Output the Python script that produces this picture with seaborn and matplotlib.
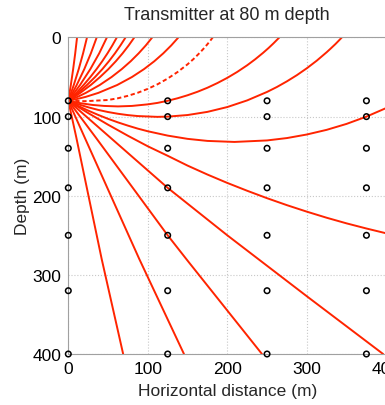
import matplotlib
matplotlib.use('Agg')
import matplotlib.pyplot as plt
import numpy as np
import pandas as pd
import seaborn as sns


# ---------------------------
# ray paths from a transmitter at 80 m depth
# ---------------------------

# upward fan, each ray goes from the source to the surface
up_rays_x = [
    [0, 3.2, 6.1, 8.7, 11],
    [0, 6.9, 13.1, 18.6, 23.5],
    [0, 10.6, 20.1, 28.4, 35.7],
    [0, 14.8, 27.7, 38.9, 48.5],
    [0, 5.1, 10.1, 19.3, 27.7, 35.5, 42.7, 49.3, 55.4, 61],
    [0, 6.4, 12.4, 23.5, 33.6, 42.8, 51.1, 58.7, 65.6, 72],
    [0, 7.8, 15.1, 28.3, 39.9, 50.4, 59.8, 68.3, 76.0, 83],
    [0, 11.7, 22.0, 39.6, 54.4, 67.2, 78.5, 88.5, 97.5, 105.5],
    [0, 10.0, 22.0, 37.8, 61.6, 80.0, 95.2, 108.2, 119.5, 129.5, 138.4],
]
up_rays_z = [
    [80, 60, 40, 20, 0],
    [80, 60, 40, 20, 0],
    [80, 60, 40, 20, 0],
    [80, 60, 40, 20, 0],
    [80, 75, 70, 60, 50, 40, 30, 20, 10, 0],
    [80, 75, 70, 60, 50, 40, 30, 20, 10, 0],
    [80, 75, 70, 60, 50, 40, 30, 20, 10, 0],
    [80, 75, 70, 60, 50, 40, 30, 20, 10, 0],
    [80, 78, 75, 70, 60, 50, 40, 30, 20, 10, 0],
]

# the dashed ray
dash_x = [0, 21, 50, 62.5, 75, 87.5, 100, 112.5, 125, 137.5, 150, 157.5, 165, 170, 175, 179, 181.6]
dash_z = [80, 80.5, 79.0, 76.8, 73.7, 69.8, 64.9, 59.0, 51.9, 43.6, 33.9, 27.2, 19.7, 14.3, 8.5, 3.5, 0]

# rays that dip first, then the downward fan
down_rays_x = [
    [0, 15, 30, 45, 62.5, 80, 100, 112, 125, 137.5, 150, 162.5, 175, 187.5, 200, 212.5,
     225, 235, 245, 252, 258, 265.4],
    [0, 12.5, 25, 37.5, 50, 62.5, 75, 87.5, 112, 125, 150, 175, 200, 225, 250, 262.5,
     275, 287.5, 300, 312.5, 325, 330, 336, 340, 344],
    [0, 12.5, 25, 37.5, 50, 62.5, 75, 87.5, 100, 125, 150, 175, 209, 250, 275, 300,
     325, 350, 375, 400],
    [0, 25, 50, 75, 100, 125, 150, 175, 200, 225, 250, 275, 300, 325, 350, 375, 400],
    [0, 25, 50, 125, 200, 300, 396],
    [0, 35, 125, 150, 243.6],
    [0, 20, 89.3, 145.5],
    [0, 10, 42, 69],
]
down_rays_z = [
    [80, 83.0, 85.2, 86.5, 87.1, 86.5, 84.5, 82.7, 80, 76.8, 73.0, 68.6, 63.5, 57.6, 51.0,
     43.5, 35.1, 27.6, 19.4, 13.2, 7.5, 0],
    [80, 84.4, 88.2, 91.5, 94.2, 96.4, 98.1, 99.3, 100.3, 100.0, 98.0, 94.0, 87.9, 79.5,
     68.8, 62.5, 55.4, 47.6, 38.9, 29.3, 18.6, 14.0, 8.3, 4.2, 0],
    [80, 86.5, 92.4, 97.8, 102.8, 107.3, 111.4, 115.2, 118.5, 124.0, 128.1, 130.7, 132,
     130.1, 127.1, 122.6, 116.7, 109.2, 100, 89.1],
    [80, 95.5, 110.2, 124.2, 137.5, 149.5, 161.9, 173.2, 183.8, 193.7, 203.1, 211.9,
     220.1, 227.8, 234.9, 241.4, 247.5],
    [80, 102, 124, 190, 250, 327, 400],
    [80, 127, 250, 282, 400],
    [80, 125, 280, 400],
    [80, 126, 280, 400],
]

# receivers
rec_x = [0, 125, 250, 375]
rec_z = [80, 100, 140, 190, 250, 320, 400]

ray_color = '#ff2400'

sns.set_style('white')
plt.rcParams['font.family'] = ['Liberation Sans', 'DejaVu Sans']
plt.rcParams['font.size'] = 12.5

fig = plt.figure(figsize=(3.85, 4.06), dpi=100)
ax = fig.add_axes([0.1774, 0.1256, 0.826, 0.7796])

for xs, zs in zip(up_rays_x + down_rays_x, up_rays_z + down_rays_z):
    sns.lineplot(x=xs, y=zs, sort=False, estimator=None, color=ray_color,
                 linewidth=1.4, ax=ax)

sns.lineplot(x=dash_x, y=dash_z, sort=False, estimator=None, color=ray_color,
             linewidth=1.4, linestyle=(0, (2.2, 1.4)), ax=ax)

rec = pd.DataFrame([(x, z) for x in rec_x for z in rec_z], columns=['x', 'z'])
sns.scatterplot(data=rec, x='x', y='z', marker='o', s=16, facecolor='none',
                edgecolor='black', linewidth=1.1, zorder=5, clip_on=False, ax=ax)

ax.set_xlim(0, 400)
ax.set_ylim(400, 0)
ax.set_xticks([0, 100, 200, 300, 400])
ax.set_yticks([0, 100, 200, 300, 400])
ax.grid(True, linestyle=':', color='#c8c8c8', linewidth=0.8)
ax.set_axisbelow(True)
for sp in ax.spines.values():
    sp.set_color('#a0a0a0')
    sp.set_linewidth(0.8)
ax.tick_params(direction='in', length=3, color='#a0a0a0', pad=5,
               labelsize=12.5, labelcolor='black')

ax.set_title('Transmitter at 80 m depth', fontsize=13, pad=13)
ax.set_xlabel('Horizontal distance (m)', fontsize=12.5, labelpad=5)
ax.set_ylabel('Depth (m)', fontsize=12.5, labelpad=2)

fig.savefig('out.png', dpi=100)
